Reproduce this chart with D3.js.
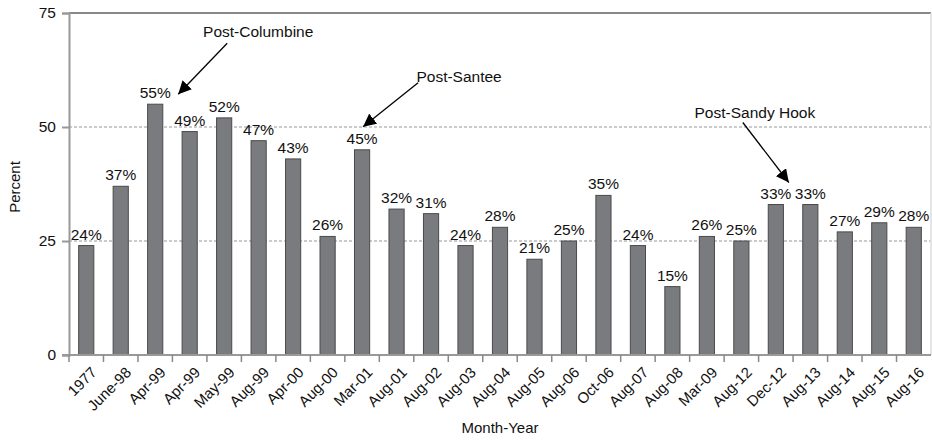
<!DOCTYPE html>
<html>
<head>
<meta charset="utf-8">
<script src="https://cdn.jsdelivr.net/npm/d3@7"></script>
<style>
  body { margin: 0; background: #fff; }
  svg { font-family: "Liberation Sans", Arial, sans-serif; display: block; }
</style>
</head>
<body>
<svg id="chart" width="932" height="440"></svg>
<script>
// survey months and percentages
var categories = ["1977", "June-98", "Apr-99", "Apr-99", "May-99", "Aug-99", "Apr-00", "Aug-00", "Mar-01",
    "Aug-01", "Aug-02", "Aug-03", "Aug-04", "Aug-05", "Aug-06", "Oct-06", "Aug-07", "Aug-08", "Mar-09",
    "Aug-12", "Dec-12", "Aug-13", "Aug-14", "Aug-15", "Aug-16"];
var values = [24, 37, 55, 49, 52, 47, 43, 26, 45, 32, 31, 24, 28, 21, 25, 35, 24, 15, 26, 25, 33, 33, 27, 29, 28];
var yTicks = [0, 25, 50, 75];
// annotation label, index of bar the arrow points to
var notes = [
    { text: "Post-Columbine", idx: 2 },
    { text: "Post-Santee", idx: 8 },
    { text: "Post-Sandy Hook", idx: 20 }
];

var margin = { top: 13, right: 1, bottom: 85, left: 69 };
var width = 932 - margin.left - margin.right;
var height = 440 - margin.top - margin.bottom;

var svg = d3.select("#chart");
var g = svg.append("g").attr("transform", "translate(" + margin.left + "," + margin.top + ")");

var x = d3.scaleBand().domain(d3.range(categories.length)).range([0, width]).paddingInner(0.56).paddingOuter(0.28);
var y = d3.scaleLinear().domain([0, 75]).range([height, 0]);

// gridlines
g.selectAll(".grid").data([25, 50]).enter().append("line")
    .attr("x1", 0).attr("x2", width)
    .attr("y1", function (d) { return y(d); }).attr("y2", function (d) { return y(d); })
    .attr("stroke", "#bbb").attr("stroke-width", 1.5).attr("stroke-dasharray", "3,2");

// top and right frame
g.append("line").attr("x1", 0).attr("x2", width).attr("y1", y(75)).attr("y2", y(75))
    .attr("stroke", "#888").attr("stroke-width", 2);
g.append("line").attr("x1", width).attr("x2", width).attr("y1", 0).attr("y2", height)
    .attr("stroke", "#ddd").attr("stroke-width", 1.5);

// bars
g.selectAll(".bar").data(values).enter().append("rect")
    .attr("class", "bar")
    .attr("x", function (d, i) { return x(i); })
    .attr("y", function (d) { return y(d); })
    .attr("width", x.bandwidth())
    .attr("height", function (d) { return height - y(d); })
    .attr("fill", "#7a7b7e").attr("stroke", "#4a4a4c").attr("stroke-width", 1);

// value labels
g.selectAll(".val").data(values).enter().append("text")
    .attr("x", function (d, i) { return x(i) + x.bandwidth() / 2; })
    .attr("y", function (d) { return y(d) - 6; })
    .attr("text-anchor", "middle").attr("font-size", 15.5).attr("fill", "#111")
    .text(function (d) { return d + "%"; });

// y axis
var yAxis = g.append("g").call(d3.axisLeft(y).tickValues(yTicks).tickSize(7).tickPadding(6));
yAxis.select(".domain").attr("stroke", "#999").attr("stroke-width", 2);
yAxis.selectAll(".tick line").attr("stroke", "#999").attr("stroke-width", 2);
yAxis.selectAll("text").attr("font-size", 15.5).attr("fill", "#111").attr("font-family", "Liberation Sans, Arial, sans-serif");

// x axis: ticks sit between bands
var xAxis = g.append("g").attr("transform", "translate(0," + height + ")");
xAxis.append("line").attr("x1", -7).attr("x2", width).attr("stroke", "#999").attr("stroke-width", 2);
var step = x.step();
xAxis.selectAll(".xt").data(d3.range(categories.length)).enter().append("line")
    .attr("x1", function (i) { return x(i) - step * 0.28; })
    .attr("x2", function (i) { return x(i) - step * 0.28; })
    .attr("y1", 0).attr("y2", 7)
    .attr("stroke", "#888").attr("stroke-width", 1.5);
xAxis.selectAll(".xl").data(categories).enter().append("text")
    .attr("transform", function (d, i) {
        return "translate(" + (x(i) + x.bandwidth() / 2 + 4) + ",11) rotate(-45)";
    })
    .attr("text-anchor", "end").attr("dy", "0.7em")
    .attr("font-size", 15).attr("fill", "#111")
    .text(function (d) { return d; });

// axis titles
svg.append("text").attr("transform", "translate(20,187) rotate(-90)")
    .attr("text-anchor", "middle").attr("font-size", 15).attr("fill", "#111").text("Percent");
svg.append("text").attr("x", 500).attr("y", 433)
    .attr("text-anchor", "middle").attr("font-size", 15).attr("fill", "#111").text("Month-Year");

// annotations
svg.append("defs").append("marker")
    .attr("id", "arrow").attr("viewBox", "0 0 10 10").attr("refX", 10).attr("refY", 5)
    .attr("markerWidth", 13).attr("markerHeight", 13).attr("markerUnits", "userSpaceOnUse").attr("orient", "auto")
    .append("path").attr("d", "M0,0L10,5L0,10z").attr("fill", "#000");

// text offset and arrow start, both relative to the arrow tip
var noteLayout = [
    { tx: 80, ty: -57, sx: 49, sy: -51, tipDx: 23, tipDy: -10 },
    { tx: 96, ty: -45, sx: 55, sy: -44, tipDx: 1, tipDy: -23 },
    { tx: -34, ty: -65, sx: -46, sy: -60, tipDx: 13, tipDy: -22 }
];
notes.forEach(function (n, k) {
    var L = noteLayout[k];
    var tipX = margin.left + x(n.idx) + x.bandwidth() / 2 + L.tipDx;
    var tipY = margin.top + y(values[n.idx]) + L.tipDy;
    svg.append("line")
        .attr("x1", tipX + L.sx).attr("y1", tipY + L.sy)
        .attr("x2", tipX).attr("y2", tipY)
        .attr("stroke", "#000").attr("stroke-width", 1.3).attr("marker-end", "url(#arrow)");
    svg.append("text").attr("x", tipX + L.tx).attr("y", tipY + L.ty)
        .attr("text-anchor", "middle").attr("font-size", 15.5).attr("fill", "#111").text(n.text);
});
</script>
</body>
</html>
